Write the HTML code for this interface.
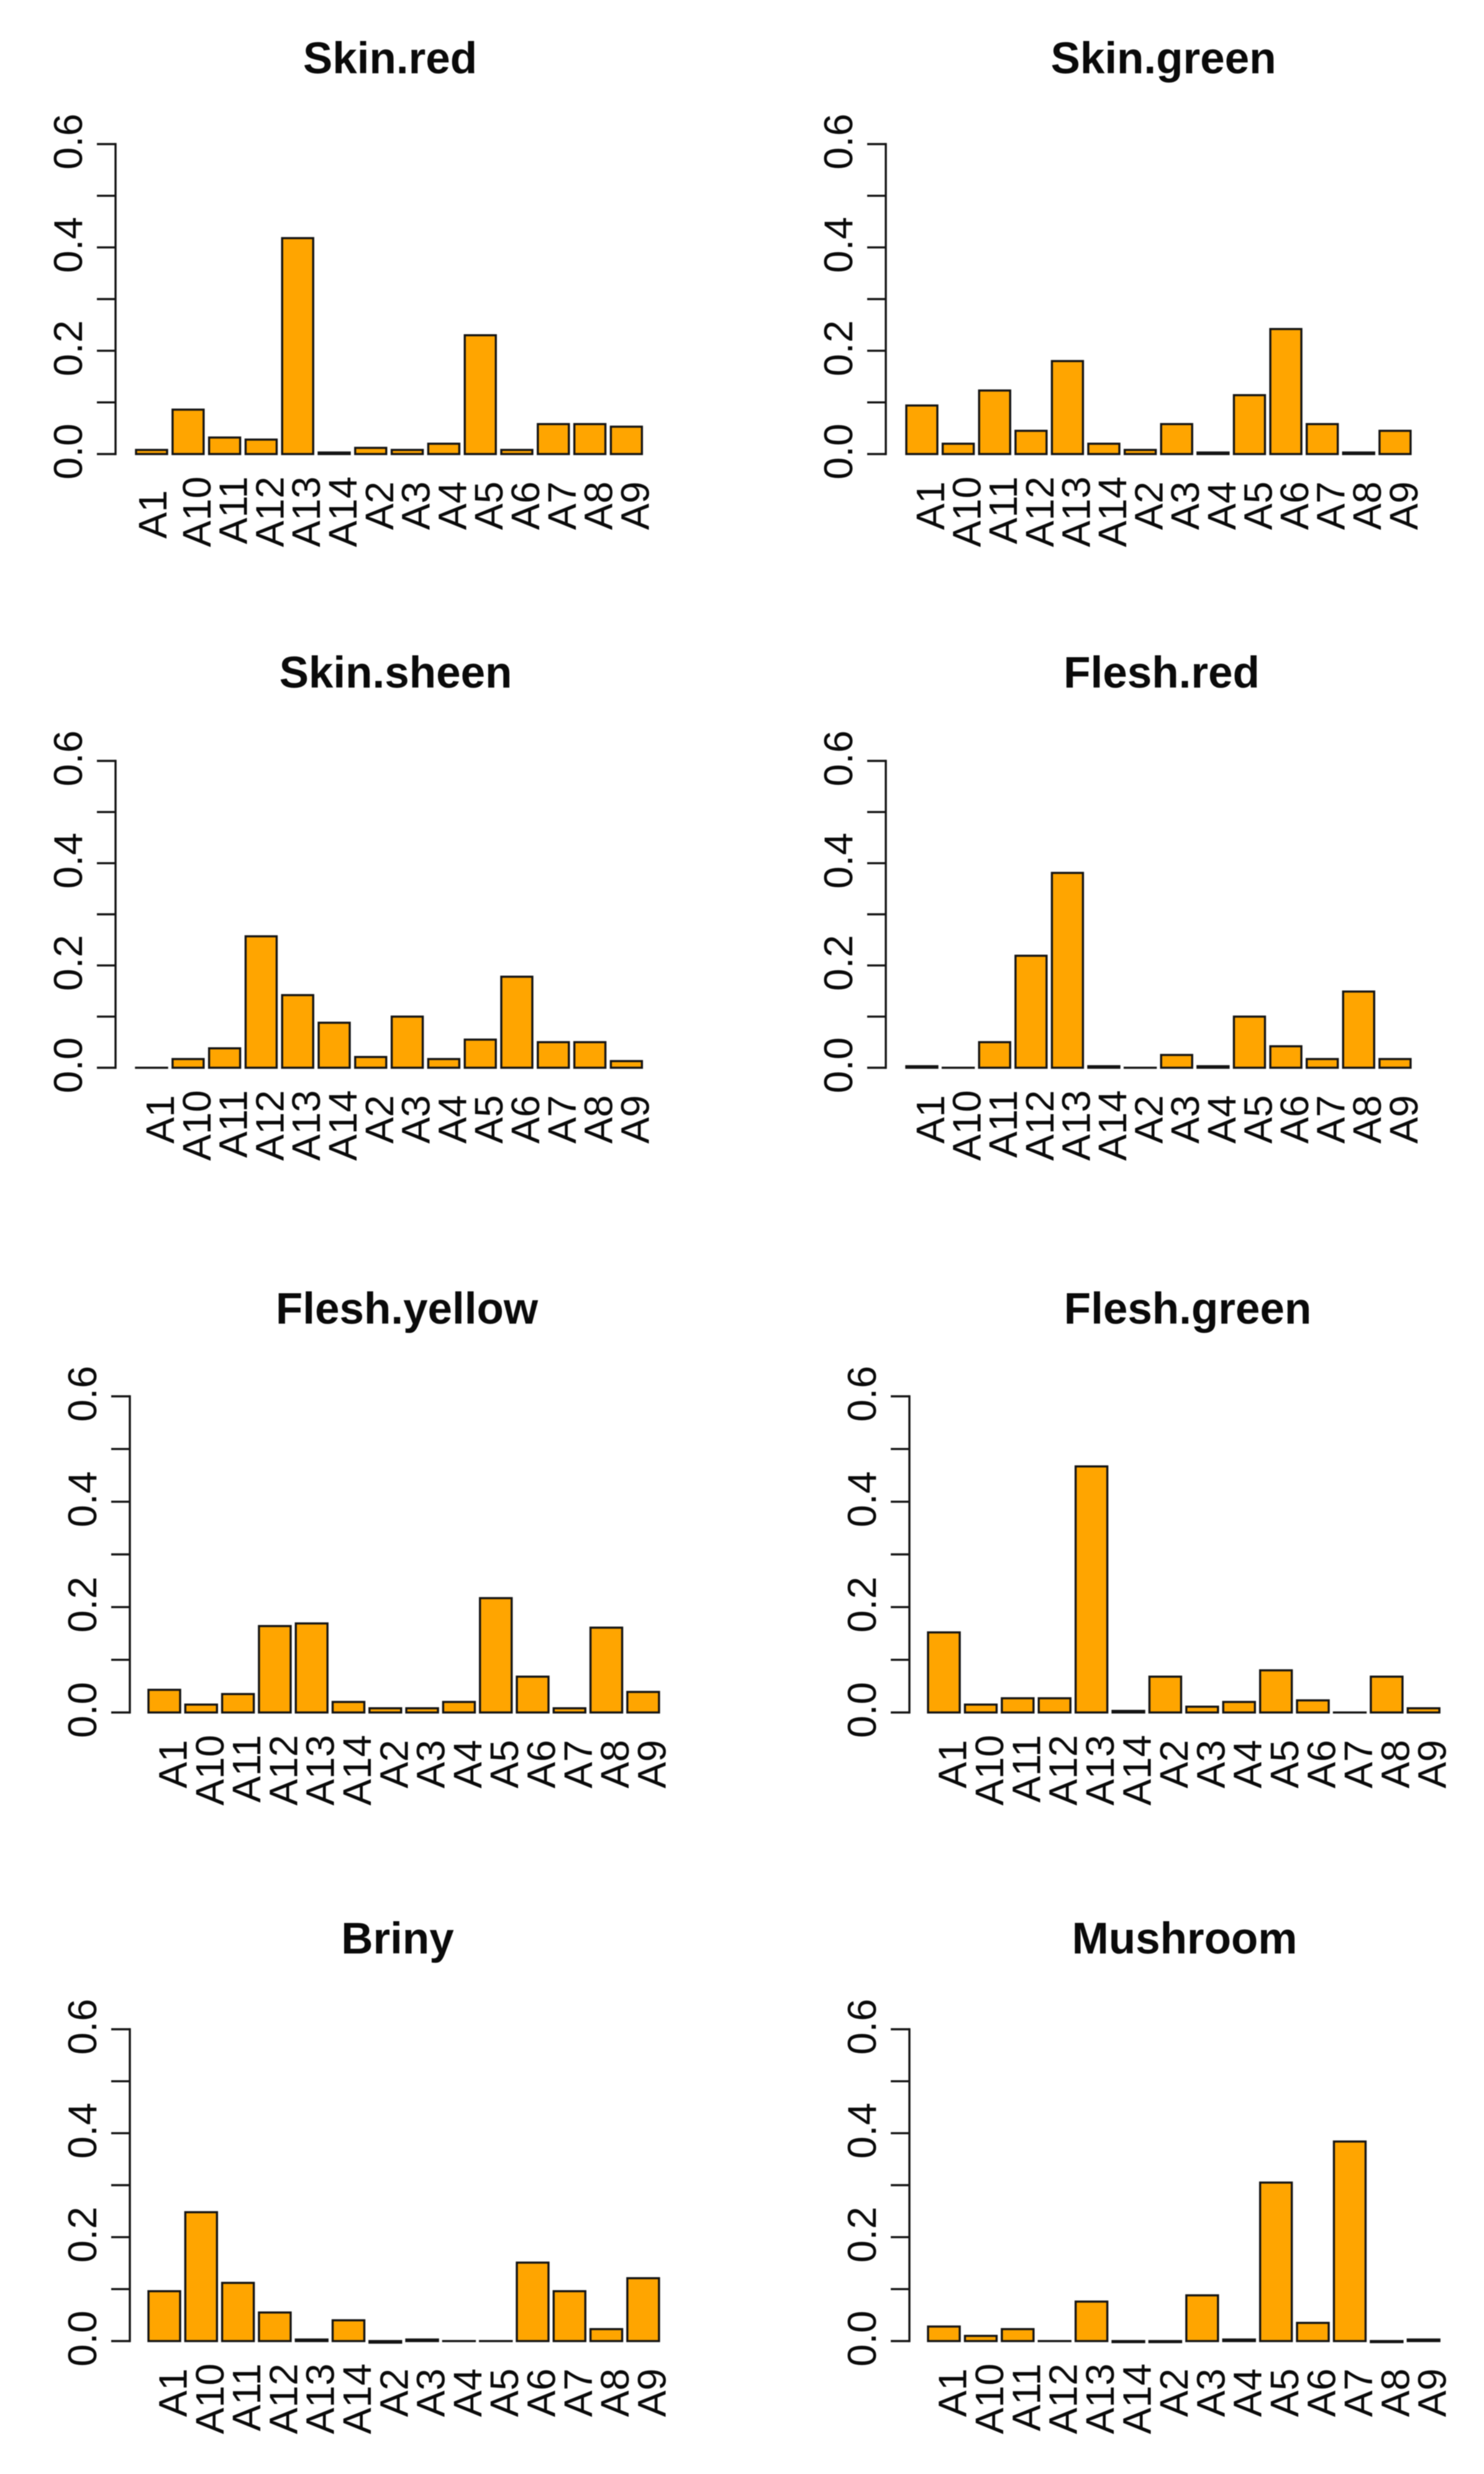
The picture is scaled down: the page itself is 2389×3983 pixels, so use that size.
<!DOCTYPE html>
<html lang="en">
<head>
<meta charset="utf-8">
<title>Attribute loadings by panel</title>
<style>
html,body{margin:0;padding:0;background:#fff;width:2389px;height:3983px;overflow:hidden}
svg{display:block;filter:blur(0.9px)}
text{font-family:"Liberation Sans",Arial,sans-serif;fill:#0a0a0a}
.title{font-size:71px;font-weight:bold;text-anchor:middle}
.tick-label{font-size:65px;text-anchor:middle}
.cat-label{font-size:64px;text-anchor:end}
</style>
</head>
<body>
<svg id="figure" xmlns="http://www.w3.org/2000/svg" width="2389" height="3983" viewBox="0 0 2389 3983">
  <rect width="2389" height="3983" fill="#ffffff"/>
  <g id="p-skin-red"><text class="title" x="628" y="118">Skin.red</text></g>
  <g id="p-skin-green"><text class="title" x="1873" y="118">Skin.green</text></g>
  <g id="p-skin-sheen"><text class="title" x="637" y="1107">Skin.sheen</text></g>
  <g id="p-flesh-red"><text class="title" x="1870" y="1107">Flesh.red</text></g>
  <g id="p-flesh-yellow"><text class="title" x="655" y="2131">Flesh.yellow</text></g>
  <g id="p-flesh-green"><text class="title" x="1912" y="2131">Flesh.green</text></g>
  <g id="p-briny"><text class="title" x="640" y="3145">Briny</text></g>
  <g id="p-mushroom"><text class="title" x="1907" y="3145">Mushroom</text></g>
</svg>
<script>
const categories = ["A1","A10","A11","A12","A13","A14","A2","A3","A4","A5","A6","A7","A8","A9"];
const yTickValues = [0, 0.1, 0.2, 0.3, 0.4, 0.5, 0.6];
const yTickLabels = ["0.0", "0.2", "0.4", "0.6"];
const yLabelValues = [0, 0.2, 0.4, 0.6];
const yMax = 0.6;

const skinRed = [0.008,0.086,0.032,0.028,0.418,0.003,0.012,0.008,0.020,0.230,0.008,0.058,0.058,0.053];
const skinGreen = [0.094,0.020,0.123,0.045,0.180,0.020,0.008,0.058,0.003,0.114,0.242,0.058,0.003,0.045];
const skinSheen = [0,0.017,0.038,0.257,0.142,0.088,0.021,0.100,0.017,0.055,0.178,0.050,0.050,0.013];
const fleshRed = [0.003,0,0.050,0.219,0.381,0.003,0,0.025,0.003,0.100,0.042,0.017,0.149,0.017];
const fleshYellow = [0.043,0.015,0.035,0.164,0.169,0.020,0.008,0.008,0.020,0.217,0.068,0.008,0.161,0.039];
const fleshGreen = [0.152,0.015,0.027,0.027,0.467,0.003,0.068,0.011,0.020,0.080,0.023,0,0.068,0.008];
const briny = [0.096,0.248,0.112,0.055,0.003,0.040,-0.003,0.003,0,0,0.151,0.096,0.023,0.121];
const mushroom = [0.028,0.010,0.023,0,0.076,-0.002,-0.002,0.088,0.003,0.305,0.035,0.384,-0.002,0.003];

const panels = [
  {id:"p-skin-red",    key:"skin-red",    values:skinRed,     axisX:186,  firstBar:219,  step:58.8, barW:50, y0:731,  yTop:232},
  {id:"p-skin-green",  key:"skin-green",  values:skinGreen,   axisX:1426, firstBar:1459, step:58.6, barW:50, y0:731,  yTop:232},
  {id:"p-skin-sheen",  key:"skin-sheen",  values:skinSheen,   axisX:186,  firstBar:219,  step:58.8, barW:50, y0:1719, yTop:1225},
  {id:"p-flesh-red",   key:"flesh-red",   values:fleshRed,    axisX:1426, firstBar:1459, step:58.6, barW:50, y0:1719, yTop:1225},
  {id:"p-flesh-yellow",key:"flesh-yellow",values:fleshYellow, axisX:209,  firstBar:239,  step:59.3, barW:51, y0:2757, yTop:2248},
  {id:"p-flesh-green", key:"flesh-green", values:fleshGreen,  axisX:1464, firstBar:1494, step:59.4, barW:51, y0:2757, yTop:2248},
  {id:"p-briny",       key:"briny",       values:briny,       axisX:209,  firstBar:239,  step:59.3, barW:51, y0:3769, yTop:3267},
  {id:"p-mushroom",    key:"mushroom",    values:mushroom,    axisX:1464, firstBar:1494, step:59.4, barW:51, y0:3769, yTop:3267}
];

const SVG_NS = "http://www.w3.org/2000/svg";
const INK = "#141414";

function make(tag, attrs, parent) {
  const el = document.createElementNS(SVG_NS, tag);
  for (const k in attrs) el.setAttribute(k, attrs[k]);
  parent.appendChild(el);
  return el;
}

function drawPanel(p) {
  const root = document.getElementById(p.id);
  const yScale = v => p.y0 - (v / yMax) * (p.y0 - p.yTop);
  const xLeft = i => p.firstBar + i * p.step;

  const axis = make("line", {x1:p.axisX, x2:p.axisX, y1:yScale(0), y2:yScale(yMax), stroke:INK, "stroke-width":3.4, "stroke-linecap":"square"}, root);
  
  

  yTickValues.forEach(v => {
    const tick = make("line", {x1:p.axisX - 30, x2:p.axisX, y1:yScale(v), y2:yScale(v), stroke:INK, "stroke-width":3.4}, root);
    
    
  });

  yLabelValues.forEach((v, i) => {
    const lx = p.axisX - 54;
    const ly = yScale(v) - 4;
    const label = make("text", {class:"tick-label", transform:"translate(" + lx + " " + ly + ") rotate(-90)"}, root);
    label.textContent = yTickLabels[i];
    
    
  });

  p.values.forEach((v, i) => {
    const a = yScale(0), b = yScale(v);
    const bar = make("rect", {x:xLeft(i), y:Math.min(a, b), width:p.barW, height:Math.max(Math.abs(a - b), 0.01), fill:"#FFA500", stroke:INK, "stroke-width":3.4}, root);
    
    
  });

  categories.forEach((c, i) => {
    const lx = xLeft(i) + p.barW / 2 + 36;
    let ly = p.y0 + (c.length > 2 ? 36 : 44);
    let tx = lx;
    if (p.key === "skin-red" && c === "A1") { ly = p.y0 + 58; tx = lx - 12; }
    const label = make("text", {class:"cat-label", transform:"translate(" + tx + " " + ly + ") rotate(-90)"}, root);
    label.textContent = c;
    
    
  });
}

panels.forEach(drawPanel);
</script>
</body>
</html>
